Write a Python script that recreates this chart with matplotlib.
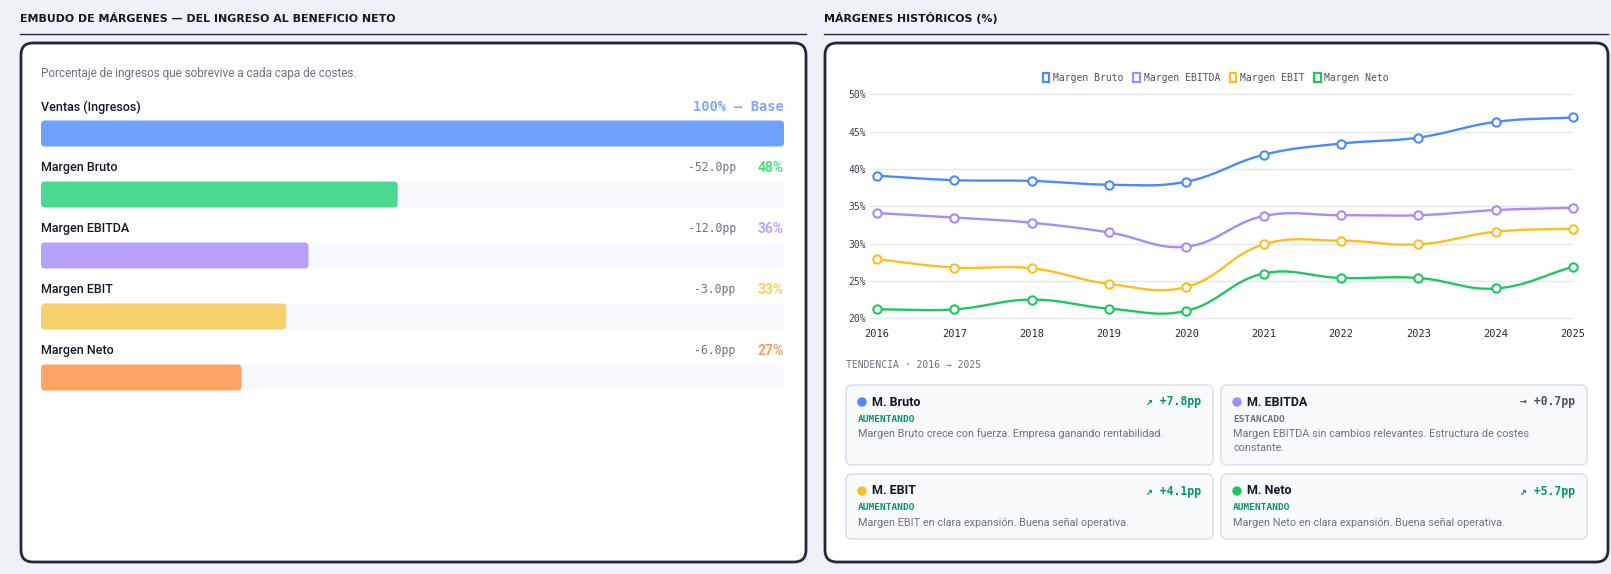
import numpy as np
import matplotlib
matplotlib.use("Agg")
import matplotlib.pyplot as plt
from matplotlib.patches import FancyBboxPatch, Circle, Patch

# ---- data ----
funnel_labels = ["Ventas (Ingresos)", "Margen Bruto", "Margen EBITDA", "Margen EBIT", "Margen Neto"]
funnel_values = [100, 48, 36, 33, 27]
funnel_colors = ["#6ea2fb", "#4ad991", "#b8a2f9", "#f6d06b", "#ffa366"]
funnel_text_colors = ["#7ea8f8", "#4ade80", "#b9a4f9", "#f8cf63", "#fb9c5c"]

years = [2016, 2017, 2018, 2019, 2020, 2021, 2022, 2023, 2024, 2025]
bruto = [39.1, 38.5, 38.4, 37.9, 38.3, 41.9, 43.4, 44.2, 46.3, 46.9]
ebitda = [34.1, 33.5, 32.8, 31.5, 29.6, 33.7, 33.8, 33.8, 34.5, 34.8]
ebit = [27.9, 26.8, 26.7, 24.6, 24.2, 29.9, 30.4, 29.9, 31.6, 32.0]
neto = [21.2, 21.2, 22.5, 21.3, 21.0, 26.0, 25.4, 25.4, 24.0, 26.9]
series_names = ["Margen Bruto", "Margen EBITDA", "Margen EBIT", "Margen Neto"]
series_colors = ["#4b8bf5", "#a78bfa", "#fbbf24", "#22c55e"]
yticks = [20, 25, 30, 35, 40, 45, 50]

card_titles = ["M. Bruto", "M. EBITDA", "M. EBIT", "M. Neto"]
card_status = ["AUMENTANDO", "ESTANCADO", "AUMENTANDO", "AUMENTANDO"]
card_desc = [
    ["Margen Bruto crece con fuerza. Empresa ganando rentabilidad."],
    ["Margen EBITDA sin cambios relevantes. Estructura de costes", "constante."],
    ["Margen EBIT en clara expansión. Buena señal operativa."],
    ["Margen Neto en clara expansión. Buena señal operativa."],
]

SANS = ["Roboto", "DejaVu Sans"]
MONO = ["DejaVu Sans Mono"]
DARK = "#111827"
GRAY = "#6b7280"
GREEN = "#059669"

W, H = 1611, 574
fig = plt.figure(figsize=(W / 100, H / 100), dpi=100, facecolor="#eef2f7")
bg = fig.add_axes([0, 0, 1, 1])
bg.set_xlim(0, W)
bg.set_ylim(H, 0)
bg.axis("off")


def px_axes(l, t, r, b):
    return fig.add_axes([l / W, 1 - b / H, (r - l) / W, (b - t) / H])


def box(x0, y0, x1, y1, r, fc, ec, lw, z=1):
    bg.add_patch(FancyBboxPatch((x0, y0), x1 - x0, y1 - y0,
                                boxstyle=f"round,pad=0,rounding_size={r}",
                                fc=fc, ec=ec, lw=lw, zorder=z))


# headers
bg.text(20, 18.5, "EMBUDO DE MÁRGENES — DEL INGRESO AL BENEFICIO NETO", family="DejaVu Sans",
        weight="bold", fontsize=7.9, color=DARK, va="center")
bg.plot([20, 806], [33.5, 33.5], color="#1e293b", lw=1)
bg.text(824, 18.5, "MÁRGENES HISTÓRICOS (%)", family="DejaVu Sans", weight="bold",
        fontsize=7.9, color=DARK, va="center")
bg.plot([824, 1608], [33.5, 33.5], color="#1e293b", lw=1)

# panels
box(21, 43, 806, 562, 12, "white", "#1e293b", 2)
box(825, 43, 1608, 562, 12, "white", "#1e293b", 2)

# ---- funnel ----
bg.text(41, 73, "Porcentaje de ingresos que sobrevive a cada capa de costes.",
        family=SANS, fontsize=8.5, color=GRAY, va="center")

fax = px_axes(41, 103, 784, 408)
fax.set_xlim(0, 100)
fax.set_ylim(5, 0)
fax.axis("off")
rows = np.arange(len(funnel_values)) + 0.5
tracks = fax.barh(rows, [100] * len(rows), height=0.426, color="#f7f9fc")
bars = fax.barh(rows, funnel_values, height=0.426, color=funnel_colors)
asp = (743 / 100) / 61
for p in list(tracks) + list(bars):
    x, y, w, h = p.get_x(), p.get_y(), p.get_width(), p.get_height()
    fax.add_patch(FancyBboxPatch((x, y), w, h, boxstyle=f"round,pad=0,rounding_size={4 / 7.43}",
                                 mutation_aspect=asp, fc=p.get_facecolor(), ec="none",
                                 zorder=p.get_zorder()))
    p.set_visible(False)

for i, (lab, v) in enumerate(zip(funnel_labels, funnel_values)):
    ly = rows[i] - 0.435
    fax.text(0, ly, lab, family=SANS, fontsize=9, weight="medium", color=DARK, va="center")
    if i == 0:
        fax.text(100, ly, f"{v}% — Base", family=MONO, weight="bold", fontsize=9.8,
                 color=funnel_text_colors[i], ha="right", va="center")
    else:
        drop = v - funnel_values[i - 1]
        fax.text(100, ly, f"{v}%", family=SANS, weight="bold", fontsize=10,
                 color=funnel_text_colors[i], ha="right", va="center")
        fax.text(93.5, ly, f"{drop:.1f}pp", family=MONO, fontsize=8.3,
                 color=GRAY, ha="right", va="center")


# ---- line chart ----
def smooth(xs, ys, sx, sy, t=0.4, n=24):
    P = np.column_stack([np.asarray(xs, float) * sx, np.asarray(ys, float) * sy])
    m = len(P)
    cps = []
    for i in range(m):
        p0, p1, p2 = P[max(i - 1, 0)], P[i], P[min(i + 1, m - 1)]
        d01, d12 = np.hypot(*(p1 - p0)), np.hypot(*(p2 - p1))
        s = d01 + d12
        fa = t * d01 / s if s else 0
        fb = t * d12 / s if s else 0
        cps.append((p1 - fa * (p2 - p0), p1 + fb * (p2 - p0)))
    u = np.linspace(0, 1, n)[:, None]
    out = []
    for i in range(m - 1):
        a, b, c, d = P[i], cps[i][1], cps[i + 1][0], P[i + 1]
        seg = (1 - u) ** 3 * a + 3 * (1 - u) ** 2 * u * b + 3 * (1 - u) * u ** 2 * c + u ** 3 * d
        out.append(seg if i == 0 else seg[1:])
    out = np.vstack(out)
    return out[:, 0] / sx, out[:, 1] / sy


lax = px_axes(877, 94.3, 1573, 318.3)
lax.set_xlim(years[0], years[-1])
lax.set_ylim(yticks[0], yticks[-1])
for s in lax.spines.values():
    s.set_visible(False)
lax.set_facecolor("none")
sx = (1573 - 877) / (years[-1] - years[0])
sy = (318.3 - 94.3) / (yticks[-1] - yticks[0])
lax.hlines(yticks, years[0] - 7 / sx, years[-1], color="#e5e7eb", lw=1, clip_on=False, zorder=0)
lax.set_yticks(yticks)
lax.set_yticklabels([f"{v}%" for v in yticks], family=MONO, fontsize=7, color="#374151")
lax.set_xticks(years)
lax.set_xticklabels([str(y) for y in years], family=MONO, fontsize=7.5, color="#1f2937")
lax.tick_params(axis="y", length=0, pad=8)
lax.tick_params(axis="x", length=0, pad=8)

for vals, col in zip([bruto, ebitda, ebit, neto], series_colors):
    xs, ys = smooth(years, vals, sx, sy)
    lax.plot(xs, ys, color=col, lw=1.7, clip_on=False, zorder=3, solid_capstyle="round")
    lax.plot(years, vals, "o", ms=6, mfc="white", mec=col, mew=1.5, clip_on=False, zorder=4)

handles = [Patch(fc="white", ec=c, lw=1.6) for c in series_colors]
leg = lax.legend(handles, series_names, loc="center", bbox_to_anchor=(0.487, 1.073), ncol=4,
                 frameon=False, handlelength=0.65, handleheight=1.1, handletextpad=0.4,
                 columnspacing=1.0, prop={"family": MONO, "size": 7})
for txt in leg.get_texts():
    txt.set_color("#4b5563")

# ---- trend cards ----
bg.text(846, 365, "TENDENCIA · 2016 → 2025", family=MONO, fontsize=7, color=GRAY, va="center")

all_series = [bruto, ebitda, ebit, neto]
card_cols = [(846, 1213), (1221, 1587)]
card_rows = [(385, 465), (474, 539)]
for k in range(4):
    x0, x1 = card_cols[k % 2]
    y0, y1 = card_rows[k // 2]
    box(x0, y0, x1, y1, 6, "#f8fafc", "#d5dde6", 1, z=2)
    delta = round(all_series[k][-1] - all_series[k][0], 1)
    stalled = abs(delta) < 1
    arrow = "→" if stalled else "↗"
    tcol = "#4b5563" if stalled else GREEN
    bg.add_patch(Circle((x0 + 16, y0 + 17), 4, color=series_colors[k], zorder=3))
    bg.text(x0 + 26, y0 + 17, card_titles[k], family=SANS, weight="bold", fontsize=9,
            color=DARK, va="center", zorder=3)
    bg.text(x1 - 12, y0 + 17, f"{arrow} +{delta:.1f}pp", family=MONO, weight="bold",
            fontsize=8.3, color=tcol, ha="right", va="center", zorder=3)
    bg.text(x0 + 12, y0 + 34, card_status[k], family=MONO, weight="bold", fontsize=6.8,
            color=GRAY if stalled else GREEN, va="center", zorder=3)
    for j, line in enumerate(card_desc[k]):
        bg.text(x0 + 12, y0 + 49 + 14 * j, line, family=SANS, fontsize=7.8, color=GRAY,
                va="center", zorder=3)

fig.savefig("out.png", dpi=100, facecolor=fig.get_facecolor())
